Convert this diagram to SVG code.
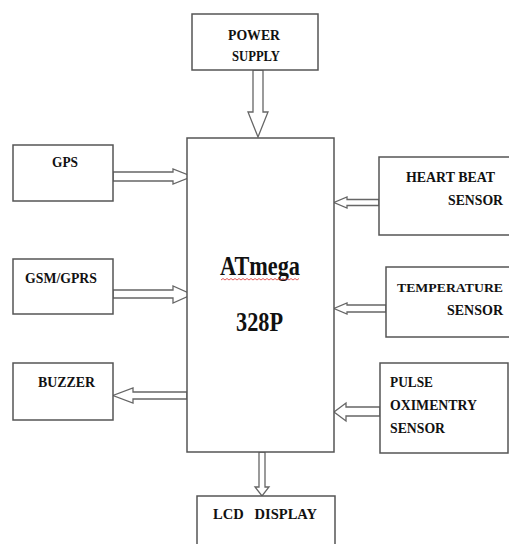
<svg xmlns="http://www.w3.org/2000/svg" width="509" height="544" viewBox="0 0 509 544">
<style>
.box{fill:#fff;stroke:#555;stroke-width:1.5}
.arr{fill:#fff;stroke:#666;stroke-width:1.3;stroke-linejoin:miter}
.t{font-family:"Liberation Serif","Times New Roman",serif;font-weight:bold;font-size:15px;fill:#111}
.big{font-family:"Liberation Serif","Times New Roman",serif;font-weight:bold;font-size:28px;fill:#111}
</style>
<rect width="509" height="544" fill="#fff"/>
<g id="connectors">
<polygon class="arr" points="253,70 263,70 263,112 268,112 258,137 248,112 253,112"/>
<polygon class="arr" points="113,172 173,172 173,169 192,176.5 173,184 173,181 113,181"/>
<polygon class="arr" points="113,290 173,290 173,286 192,294.5 173,303 173,298 113,298"/>
<polygon class="arr" points="187,392 133,392 133,388 113,395.5 133,403 133,399 187,399"/>
<polygon class="arr" points="379,199.5 347,199.5 347,197 334,202.5 347,208 347,205.5 379,205.5"/>
<polygon class="arr" points="386,305 347,305 347,303 334,308.5 347,314 347,312 386,312"/>
<polygon class="arr" points="380,407 346,407 346,403 334,412 346,421 346,416 380,416"/>
<polygon class="arr" points="259,452 265,452 265,487 269,487 262,496 255,487 259,487"/>
</g>
<g id="power">
<rect class="box" x="192" y="14" width="126" height="56"/>
<text class="t" x="228" y="40" textLength="52" lengthAdjust="spacingAndGlyphs">POWER</text>
<text class="t" x="232" y="61" textLength="48" lengthAdjust="spacingAndGlyphs">SUPPLY</text>
</g>
<g id="mcu">
<rect class="box" x="187" y="138" width="147" height="314"/>
<text class="big" x="220" y="275" textLength="80" lengthAdjust="spacingAndGlyphs">ATmega</text>
<path d="M221,280 l2,-1.5 l2,1.5 l2,-1.5 l2,1.5 l2,-1.5 l2,1.5 l2,-1.5 l2,1.5 l2,-1.5 l2,1.5 l2,-1.5 l2,1.5 l2,-1.5 l2,1.5 l2,-1.5 l2,1.5 l2,-1.5 l2,1.5 l2,-1.5 l2,1.5 l2,-1.5 l2,1.5 l2,-1.5 l2,1.5 l2,-1.5 l2,1.5 l2,-1.5 l2,1.5 l2,-1.5 l2,1.5 l2,-1.5 l2,1.5 l2,-1.5 l2,1.5 l2,-1.5 l2,1.5 l2,-1.5 l2,1.5 l2,-1.5" fill="none" stroke="#d33" stroke-width="0.8"/>
<text class="big" x="236" y="331" textLength="47" lengthAdjust="spacingAndGlyphs">328P</text>
</g>
<g id="gps">
<rect class="box" x="13" y="145" width="100" height="56"/>
<text class="t" x="52" y="167" textLength="26" lengthAdjust="spacingAndGlyphs">GPS</text>
</g>
<g id="gsm">
<rect class="box" x="13" y="259" width="100" height="55"/>
<text class="t" x="25" y="283" textLength="72" lengthAdjust="spacingAndGlyphs">GSM/GPRS</text>
</g>
<g id="buzzer">
<rect class="box" x="13" y="363" width="100" height="57"/>
<text class="t" x="38" y="387" textLength="57" lengthAdjust="spacingAndGlyphs">BUZZER</text>
</g>
<g id="heartbeat">
<rect class="box" x="379" y="157" width="140" height="78"/>
<text class="t" x="406" y="182" textLength="89" lengthAdjust="spacingAndGlyphs">HEART BEAT</text>
<text class="t" x="448" y="205" textLength="55" lengthAdjust="spacingAndGlyphs">SENSOR</text>
</g>
<g id="temperature">
<rect class="box" x="386" y="267" width="133" height="70"/>
<text class="t" x="397" y="292" style="font-size:13.5px" textLength="106" lengthAdjust="spacingAndGlyphs">TEMPERATURE</text>
<text class="t" x="447" y="315" textLength="56" lengthAdjust="spacingAndGlyphs">SENSOR</text>
</g>
<g id="pulse">
<rect class="box" x="380" y="363" width="128" height="90"/>
<text class="t" x="390" y="387" textLength="43" lengthAdjust="spacingAndGlyphs">PULSE</text>
<text class="t" x="390" y="410" textLength="87" lengthAdjust="spacingAndGlyphs">OXIMENTRY</text>
<text class="t" x="390" y="433" textLength="55" lengthAdjust="spacingAndGlyphs">SENSOR</text>
</g>
<g id="lcd">
<rect class="box" x="197" y="496" width="138" height="60"/>
<text class="t" x="213" y="519" textLength="104" lengthAdjust="spacingAndGlyphs" xml:space="preserve">LCD   DISPLAY</text>
</g>
</svg>
